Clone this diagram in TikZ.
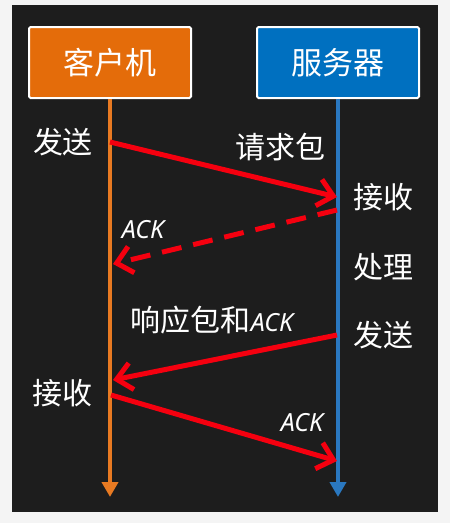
\documentclass[tikz,border=0pt]{standalone}
\usepackage{fontspec}
\setmainfont{Noto Sans}
\newfontfamily\cjk{Noto Sans CJK SC}
\usetikzlibrary{arrows.meta}
\definecolor{paper}{HTML}{F4F4F4}
\definecolor{panel}{HTML}{1D1D1D}
\definecolor{clientc}{HTML}{E46C0A}
\definecolor{serverc}{HTML}{0070C0}
\definecolor{clientl}{HTML}{E87A22}
\definecolor{serverl}{HTML}{2A78C0}
\definecolor{msgred}{HTML}{F5000F}
\begin{document}
\begin{tikzpicture}[x=1pt,y=-1pt,
  box/.style={draw=white, line width=2pt, rounded corners=1.5pt, minimum width=162pt, minimum height=71pt, inner sep=0pt, text=white, font=\cjk\fontsize{31}{36}\selectfont},
  lbl/.style={text=white, inner sep=0pt, font=\cjk\fontsize{30}{34}\selectfont},
  acklbl/.style={text=white, inner sep=0pt, font=\fontsize{25}{28}\selectfont\itshape},
  lifeline/.style={line width=4pt, -{Triangle[length=15pt,width=16pt]}},
  msg/.style={draw=msgred, line width=5pt, -{Straight Barb[length=15pt,width=27pt]}},
  dmsg/.style={msg, dash pattern=on 20pt off 12pt}]
\useasboundingbox (0,0) rectangle (450,523);
\fill[paper] (0,0) rectangle (450,523);
\fill[panel] (12,5) rectangle (438,512);
% boxes
\node[box, fill=clientc] (client) at (110,62.5) {客户机};
\node[box, fill=serverc] (server) at (338,62.5) {服务器};
% lifelines
\coordinate (cend) at (110,497);
\coordinate (send) at (338,497);
\draw[lifeline, clientl] (client.south) -- (cend);
\draw[lifeline, serverl] (server.south) -- (send);
% message end points
\coordinate (c1) at (110,142);
\coordinate (s1) at (337,197);
\coordinate (s2) at (337,210);
\coordinate (c2) at (113,264);
\coordinate (s3) at (337,335);
\coordinate (c3) at (113,380);
\coordinate (c4) at (111,395);
\coordinate (s4) at (337,461);
\draw[msg] (c1) -- (s1);
\draw[dmsg] (s2) -- (c2);
\draw[msg] (s3) -- (c3);
\draw[msg] (c4) -- (s4);
% labels
\node[lbl] (send1) at (63,142) {发送};
\node[lbl] (req) at (280,147) {请求包};
\node[lbl] (recv1) at (383,197) {接收};
\node[acklbl] (ack1) at (143,230) {ACK};
\node[lbl] (proc) at (383,267) {处理};
\node[lbl] (resp) at (212,320) {响应包和{\fontspec{Noto Sans}\fontsize{25}{28}\selectfont\itshape ACK}};
\node[lbl] (send2) at (383,335) {发送};
\node[lbl] (recv2) at (62,393) {接收};
\node[acklbl] (ack2) at (302,423) {ACK};
\end{tikzpicture}
\end{document}
